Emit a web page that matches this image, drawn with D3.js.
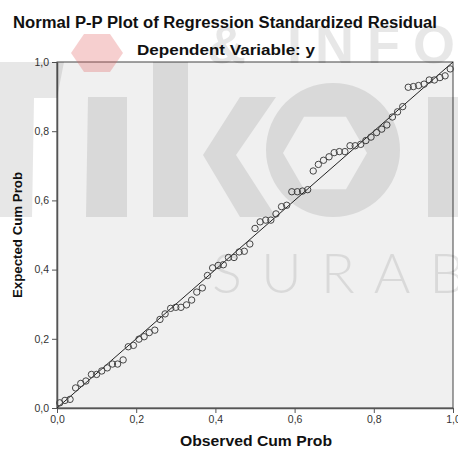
<!DOCTYPE html>
<html>
<head>
<meta charset="utf-8">
<title>Normal P-P Plot</title>
<script src="https://d3js.org/d3.v7.min.js"></script>
<style>
  body { margin: 0; background: #fff; }
  svg { display: block; font-family: "Liberation Sans", Arial, sans-serif; }
</style>
</head>
<body>
<svg id="chart" width="458" height="449"></svg>
<script>
// observed cumulative probability of each residual
var observed = [0.007, 0.020, 0.033, 0.047, 0.060, 0.073, 0.087, 0.100, 0.113, 0.127,
  0.140, 0.153, 0.167, 0.180, 0.193, 0.207, 0.220, 0.233, 0.247, 0.260,
  0.273, 0.287, 0.300, 0.313, 0.327, 0.340, 0.353, 0.367, 0.380, 0.393,
  0.407, 0.420, 0.433, 0.447, 0.460, 0.473, 0.487, 0.500, 0.513, 0.527,
  0.540, 0.553, 0.567, 0.580, 0.593, 0.607, 0.620, 0.633, 0.647, 0.660,
  0.673, 0.687, 0.700, 0.713, 0.727, 0.740, 0.753, 0.767, 0.780, 0.793,
  0.807, 0.820, 0.833, 0.847, 0.860, 0.873, 0.887, 0.900, 0.913, 0.927,
  0.940, 0.953, 0.967, 0.980, 0.993];
// expected cumulative probability (normal)
var expected = [0.015, 0.022, 0.025, 0.058, 0.071, 0.078, 0.097, 0.097, 0.107, 0.116,
  0.127, 0.127, 0.139, 0.177, 0.181, 0.199, 0.206, 0.218, 0.225, 0.256,
  0.272, 0.288, 0.291, 0.291, 0.298, 0.312, 0.335, 0.347, 0.383, 0.405,
  0.412, 0.414, 0.435, 0.435, 0.451, 0.453, 0.474, 0.519, 0.538, 0.543,
  0.543, 0.561, 0.582, 0.586, 0.625, 0.625, 0.627, 0.631, 0.685, 0.704,
  0.716, 0.726, 0.738, 0.741, 0.741, 0.758, 0.758, 0.762, 0.773, 0.783,
  0.796, 0.806, 0.818, 0.841, 0.856, 0.871, 0.927, 0.929, 0.932, 0.936,
  0.948, 0.948, 0.955, 0.960, 0.980];
var tickValues = [0, 0.2, 0.4, 0.6, 0.8, 1.0];
var refLine = [[0, 0], [1, 1]];

var svg = d3.select("#chart");
var margin = {left: 57, top: 62, right: 5, bottom: 41};
var w = 458 - margin.left - margin.right,
    h = 449 - margin.top - margin.bottom;

var x = d3.scaleLinear().domain([0, 1]).range([0, w]);
var y = d3.scaleLinear().domain([0, 1]).range([h, 0]);
var fmt = function(d) { return d3.format(".1f")(d).replace(".", ","); };

// titles
svg.append("text")
  .attr("x", 225).attr("y", 28)
  .attr("text-anchor", "middle")
  .attr("textLength", 424).attr("lengthAdjust", "spacingAndGlyphs")
  .style("font-size", "16px").style("font-weight", "bold").style("fill", "#111")
  .text("Normal P-P Plot of Regression Standardized Residual");
svg.append("text")
  .attr("x", 226).attr("y", 55)
  .attr("text-anchor", "middle")
  .attr("textLength", 178).attr("lengthAdjust", "spacingAndGlyphs")
  .style("font-size", "15px").style("font-weight", "bold").style("fill", "#111")
  .text("Dependent Variable: y");

var g = svg.append("g").attr("transform", "translate(" + margin.left + "," + margin.top + ")");

g.append("rect")
  .attr("width", w).attr("height", h)
  .attr("fill", "#f0f0f0")
  .attr("stroke", "#444").attr("stroke-width", 1);

var xAxis = g.append("g").attr("transform", "translate(0," + h + ")")
  .call(d3.axisBottom(x).tickValues(tickValues).tickFormat(fmt).tickSize(5).tickSizeOuter(0));
var yAxis = g.append("g")
  .call(d3.axisLeft(y).tickValues(tickValues).tickFormat(fmt).tickSize(5).tickSizeOuter(0));
[xAxis, yAxis].forEach(function(a) {
  a.select(".domain").attr("stroke", "#555").attr("stroke-width", 1.5);
  a.selectAll(".tick line").attr("stroke", "#555");
  a.selectAll(".tick text").style("font-size", "10.5px").style("fill", "#333")
    .style("font-family", "'Liberation Sans', Arial, sans-serif");
});

// reference diagonal
g.append("path")
  .datum(refLine)
  .attr("d", d3.line().x(function(d) { return x(d[0]); }).y(function(d) { return y(d[1]); }))
  .attr("stroke", "#222").attr("stroke-width", 1).attr("fill", "none");

g.selectAll("circle.pt")
  .data(observed)
  .enter()
  .append("circle")
  .attr("class", "pt")
  .attr("cx", function(d) { return x(d); })
  .attr("cy", function(d, i) { return y(expected[i]); })
  .attr("r", 3.2)
  .attr("fill", "none")
  .attr("stroke", "#444")
  .attr("stroke-width", 1);

// axis titles
svg.append("text")
  .attr("x", 256).attr("y", 446)
  .attr("text-anchor", "middle")
  .attr("textLength", 152).attr("lengthAdjust", "spacingAndGlyphs")
  .style("font-size", "14px").style("font-weight", "bold").style("fill", "#111")
  .text("Observed Cum Prob");
svg.append("text")
  .attr("transform", "translate(22,235) rotate(-90)")
  .attr("text-anchor", "middle")
  .attr("textLength", 126).attr("lengthAdjust", "spacingAndGlyphs")
  .style("font-size", "13px").style("font-weight", "bold").style("fill", "#111")
  .text("Expected Cum Prob");

// faint watermark laid over the picture
var wm = svg.append("g").attr("opacity", 0.09).attr("fill", "#000");
wm.append("path").attr("d", "M0,62 L64,62 L57,98 L34,98 L32,217 L0,217 Z");
wm.append("path").attr("d", "M88,97 L127,97 L127,217 L86,217 Z");
wm.append("path").attr("d", "M153,62 L188,62 L188,217 L153,217 Z");
wm.append("path").attr("d", "M240,97 L276,97 L236,155 L276,217 L240,217 L203,155 Z");
var hex = d3.range(6).map(function(k) {
  var a = Math.PI / 3 * k;
  return [-8 + 42 * Math.cos(a), 3 + 42 * Math.sin(a)];
});
wm.append("path")
  .attr("fill-rule", "evenodd")
  .attr("d", d3.arc()({innerRadius: 0, outerRadius: 67, startAngle: 0, endAngle: 2 * Math.PI})
    + " M" + hex.map(function(p) { return p.join(","); }).join(" L") + " Z")
  .attr("transform", "translate(333,150)");
wm.append("path").attr("d", "M428,97 L458,97 L458,217 L428,217 Z");
wm.append("text").attr("x", 207).attr("y", 63)
  .style("font-size", "54px").style("font-weight", "bold").style("letter-spacing", "13px")
  .text("& INFORMATIKA");
wm.append("text").attr("x", 212).attr("y", 293)
  .style("font-size", "56px").style("font-weight", "300").style("letter-spacing", "19px")
  .style("font-family", "Lato, 'Liberation Sans', sans-serif")
  .text("SURABAYA");
svg.append("path")
  .attr("d", d3.range(6).map(function(k) {
    var a = Math.PI / 3 * k;
    return (k ? "L" : "M") + (97 + 26 * Math.cos(a)) + "," + (53 + 22 * Math.sin(a));
  }).join(" ") + " Z")
  .attr("fill", "#e06060").attr("opacity", 0.3);
</script>
</body>
</html>
